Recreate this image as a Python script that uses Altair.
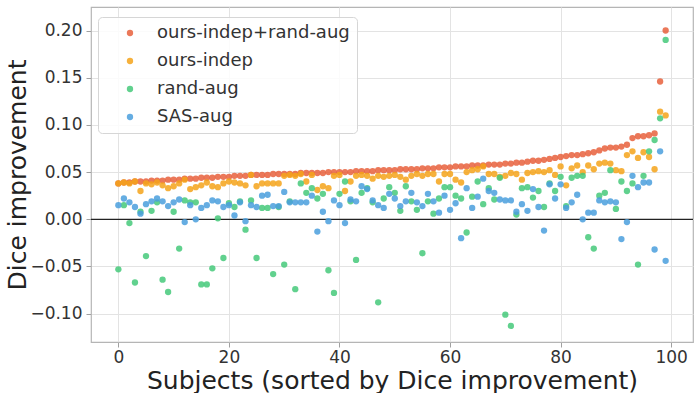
import altair as alt
import pandas as pd

# Subjects are indexed 0..99, sorted by the improvement of the combined method
subjects = list(range(100))

series_names = ["ours-indep+rand-aug", "ours-indep", "rand-aug", "SAS-aug"]
series_colors = ["#e8603c", "#f5a31a", "#45c97a", "#4a9fdd"]

ours_indep_rand_aug = [
    0.038, 0.039, 0.039, 0.040, 0.040, 0.040, 0.041, 0.041, 0.041, 0.042,
    0.042, 0.042, 0.043, 0.043, 0.043, 0.044, 0.044, 0.044, 0.045, 0.045,
    0.045, 0.046, 0.046, 0.046, 0.047, 0.047, 0.047, 0.047, 0.048, 0.048,
    0.048, 0.048, 0.048, 0.049, 0.049, 0.049, 0.049, 0.049, 0.050, 0.050,
    0.050, 0.050, 0.050, 0.051, 0.051, 0.051, 0.051, 0.052, 0.052, 0.052,
    0.052, 0.053, 0.053, 0.053, 0.053, 0.054, 0.054, 0.054, 0.055, 0.055,
    0.055, 0.056, 0.056, 0.056, 0.057, 0.057, 0.057, 0.058, 0.058, 0.058,
    0.059, 0.059, 0.060, 0.060, 0.061, 0.062, 0.062, 0.063, 0.064, 0.065,
    0.066, 0.067, 0.068, 0.068, 0.069, 0.070, 0.071, 0.073, 0.075, 0.076,
    0.076, 0.077, 0.079, 0.086, 0.088, 0.088, 0.089, 0.091, 0.146, 0.200,
]

ours_indep = [
    0.038, 0.039, 0.038, 0.040, 0.030, 0.038, 0.037, 0.039, 0.036, 0.033,
    0.035, 0.038, 0.042, 0.032, 0.034, 0.036, 0.039, 0.035, 0.034, 0.038,
    0.040, 0.039, 0.038, 0.036, 0.047, 0.035, 0.038, 0.038, 0.038, 0.038,
    0.046, 0.047, 0.046, 0.048, 0.040, 0.047, 0.031, 0.035, 0.033, 0.046,
    0.047, 0.030, 0.040, 0.046, 0.047, 0.046, 0.043, 0.046, 0.045, 0.046,
    0.047, 0.045, 0.042, 0.046, 0.048, 0.046, 0.048, 0.048, 0.040, 0.048,
    0.048, 0.042, 0.039, 0.050, 0.052, 0.053, 0.056, 0.048, 0.048, 0.045,
    0.046, 0.049, 0.048, 0.042, 0.049, 0.050, 0.051, 0.050, 0.052, 0.047,
    0.056, 0.036, 0.054, 0.057, 0.050, 0.057, 0.053, 0.059, 0.060, 0.059,
    0.052, 0.051, 0.068, 0.072, 0.065, 0.071, 0.066, 0.053, 0.114, 0.110,
]

rand_aug = [
    -0.053, 0.015, -0.004, -0.067, 0.008, -0.039, 0.009, 0.018, -0.064, -0.077,
    0.008, -0.031, 0.020, 0.018, 0.018, -0.069, -0.069, -0.052, 0.001, -0.041,
    0.017, 0.013, 0.019, -0.011, 0.020, -0.041, 0.012, 0.012, -0.058, 0.013,
    -0.048, 0.019, -0.074, 0.038, 0.028, 0.033, 0.022, 0.027, -0.054, -0.078,
    0.027, 0.040, 0.019, -0.043, 0.028, 0.033, 0.018, -0.088, 0.022, 0.034,
    0.028, 0.009, 0.035, 0.019, 0.010, -0.036, 0.019, 0.006, 0.022, 0.034,
    0.034, 0.025, 0.022, -0.014, 0.024, 0.040, 0.016, 0.033, 0.021, 0.044,
    -0.101, -0.113, 0.005, 0.033, 0.034, 0.023, 0.030, 0.013, 0.038, 0.030,
    0.045, 0.014, 0.044, 0.046, 0.046, -0.019, -0.031, 0.025, 0.028, 0.052,
    0.011, 0.040, 0.030, 0.038, -0.048, 0.046, 0.072, 0.084, 0.107, 0.190,
]

sas_aug = [
    0.015, 0.022, 0.018, 0.013, 0.006, 0.016, 0.019, 0.022, 0.019, 0.014,
    0.018, 0.021, -0.003, 0.015, 0.000, 0.012, 0.015, 0.020, 0.019, 0.013,
    0.015, 0.004, 0.018, -0.002, 0.015, 0.013, 0.025, 0.026, 0.014, 0.014,
    0.029, 0.018, 0.018, 0.018, 0.018, 0.025, -0.013, 0.008, -0.002, 0.020,
    0.015, -0.004, 0.021, 0.019, 0.035, 0.032, 0.020, 0.015, 0.012, 0.027,
    0.022, 0.014, 0.019, 0.028, 0.018, 0.014, 0.027, 0.019, 0.007, 0.025,
    0.010, 0.017, -0.020, 0.033, 0.012, 0.024, 0.043, 0.030, 0.028, 0.021,
    0.020, 0.020, 0.008, 0.016, 0.009, 0.032, 0.013, -0.012, 0.037, 0.022,
    0.037, 0.012, 0.018, 0.026, 0.000, 0.007, 0.007, 0.020, 0.018, 0.019,
    0.018, -0.021, -0.003, 0.046, 0.034, 0.039, 0.039, -0.032, 0.072, -0.044,
]

x_ticks = [0, 20, 40, 60, 80, 100]
y_ticks = [-0.10, -0.05, 0.00, 0.05, 0.10, 0.15, 0.20]

rows = []
for k, (name, values) in enumerate(
    zip(series_names, [ours_indep_rand_aug, ours_indep, rand_aug, sas_aug])
):
    for s, v in zip(subjects, values):
        rows.append({"subject": s, "dice": v, "method": name, "draw": k})
df = pd.DataFrame(rows)

FONT = "DejaVu Sans"
x_scale = alt.Scale(domain=[-4.95, 103.95], nice=False, zero=False)
y_scale = alt.Scale(domain=[-0.130, 0.2249], nice=False, zero=False)

points = (
    alt.Chart(df)
    .mark_circle(size=40, opacity=0.85)
    .encode(
        x=alt.X(
            "subject:Q",
            scale=x_scale,
            axis=alt.Axis(
                values=x_ticks,
                format="d",
                title="Subjects (sorted by Dice improvement)",
                titleFontSize=25,
                titleY=46,
                titleBaseline="alphabetic",
                labelFontSize=17,
                labelPadding=2,
            ),
        ),
        y=alt.Y(
            "dice:Q",
            scale=y_scale,
            axis=alt.Axis(
                values=y_ticks,
                format=".2f",
                title="Dice improvement",
                titleFontSize=25,
                titleX=-66,
                titleBaseline="alphabetic",
                labelFontSize=17,
                labelPadding=4,
            ),
        ),
        color=alt.Color(
            "method:N",
            scale=alt.Scale(domain=series_names, range=series_colors),
            legend=alt.Legend(
                title=None,
                orient="none",
                legendX=7,
                legendY=10,
                labelFontSize=18,
                labelFont=FONT,
                labelColor="#333333",
                labelLimit=0,
                symbolType="circle",
                symbolSize=40,
                symbolOpacity=0.85,
                symbolStrokeWidth=0,
                padding=7,
                rowPadding=10,
                symbolOffset=16,
                labelOffset=18,
                fillColor="rgba(255,255,255,0.85)",
                strokeColor="#d6d6d6",
                cornerRadius=4,
            ),
        ),
        order=alt.Order("draw:Q"),
    )
)

zero_line = (
    alt.Chart(pd.DataFrame({"dice": [0.0]}))
    .mark_rule(color="#222222", strokeWidth=1.3)
    .encode(y=alt.Y("dice:Q", scale=y_scale))
)

chart = (
    alt.layer(zero_line, points)
    .properties(
        width=602,
        height=335,
        autosize=alt.AutoSizeParams(type="none"),
        padding={"left": 91, "top": 7, "right": 6, "bottom": 51},
        background="white",
    )
    .configure_view(stroke="#b5b5b5", strokeWidth=1.2)
    .configure_axis(
        labelFont=FONT,
        titleFont=FONT,
        labelColor="#333333",
        titleColor="#222222",
        titleFontWeight="normal",
        grid=True,
        gridColor="#e3e3e3",
        gridWidth=1,
        domain=False,
        tickColor="#a0a0a0",
        tickSize=5,
    )
)

chart.save("out.html", embed_options={"renderer": "svg", "actions": False})
